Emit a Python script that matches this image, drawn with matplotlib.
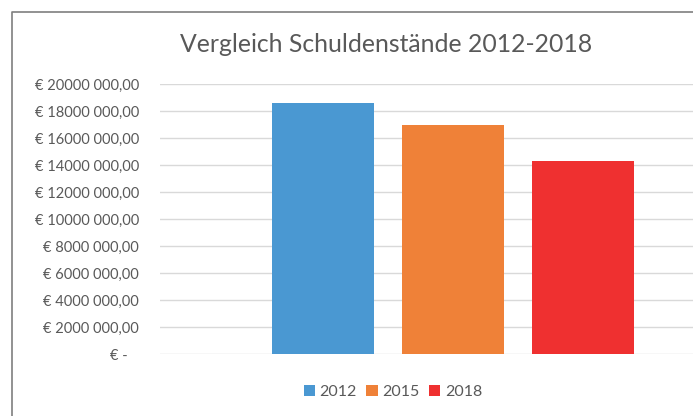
import matplotlib.pyplot as plt
from matplotlib.lines import Line2D

# Daten
jahre = ["2012", "2015", "2018"]
schulden = [18600000, 16950000, 14300000]
farben = ["#4A98D2", "#EF8138", "#EF3030"]

y_ticks = [0, 2000000, 4000000, 6000000, 8000000, 10000000,
           12000000, 14000000, 16000000, 18000000, 20000000]
y_labels = ["€ -   ", "€ 2000 000,00", "€ 4000 000,00", "€ 6000 000,00",
            "€ 8000 000,00", "€ 10000 000,00", "€ 12000 000,00",
            "€ 14000 000,00", "€ 16000 000,00", "€ 18000 000,00",
            "€ 20000 000,00"]

grau = "#595959"
plt.rcParams["font.family"] = ["Lato", "DejaVu Sans"]

fig = plt.figure(figsize=(6.93, 4.16), dpi=100)
ax = fig.add_axes([160 / 693, 1 - 354 / 416, 1 - 160 / 693, (354 - 84) / 416])

for i, (j, w, c) in enumerate(zip(jahre, schulden, farben)):
    ax.bar(i, w, width=0.785, color=c, label=j, zorder=3)

ax.set_xlim(-1.254, 2.846)
ax.set_ylim(0, 20000000)
ax.set_yticks(y_ticks)
ax.set_yticklabels(y_labels, color=grau, fontsize=10.5)
ax.set_xticks([])
ax.tick_params(axis="y", length=0, pad=15)
ax.grid(axis="y", color="#D9D9D9", linewidth=1, zorder=0)
for s in ax.spines.values():
    s.set_visible(False)

fig.text(386 / 693, 1 - 45 / 416, "Vergleich Schuldenstände 2012-2018",
         ha="center", va="center", fontsize=17.8, color=grau)

fig.legend(loc="center", bbox_to_anchor=(393 / 693, 1 - 392 / 416), ncol=3,
           frameon=False, fontsize=11.5, labelcolor=grau,
           handlelength=0.7, handleheight=0.7, handletextpad=0.3,
           columnspacing=0.6)

# Rahmen des Diagramms
fig.add_artist(Line2D([12 / 693, 12 / 693, 1], [0, 1 - 11.5 / 416, 1 - 11.5 / 416],
                      transform=fig.transFigure, color="#7F7F7F", linewidth=1.2))

fig.savefig("out.png", dpi=100)
